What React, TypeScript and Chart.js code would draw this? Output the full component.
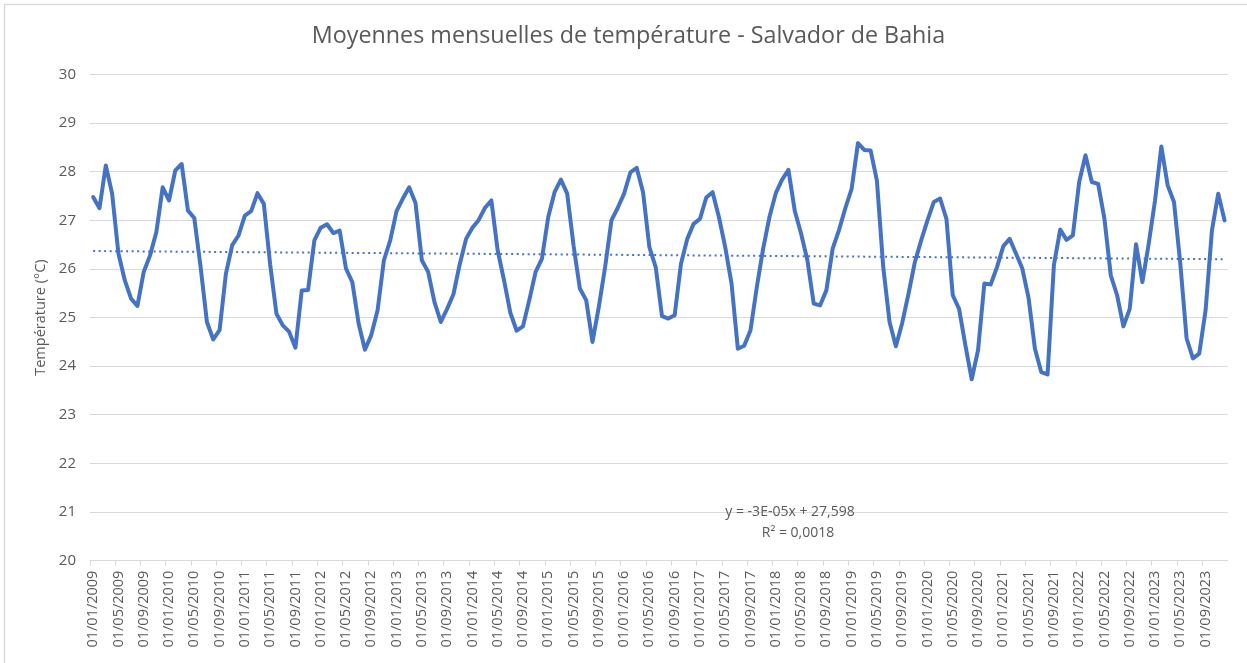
import React, { useEffect, useRef } from "react";
import { Chart, registerables } from "chart.js";

Chart.register(...registerables);

const TITLE = "Moyennes mensuelles de température - Salvador de Bahia";
const Y_TITLE = "Température (°C)";
const TREND_EQ = "y = -3E-05x + 27,598";
const TREND_R2 = "R² = 0,0018";

const START_YEAR = 2009;
const LABEL_EVERY = 4;

const T_2009_2010 = [27.48, 27.25, 28.13, 27.55, 26.32, 25.77, 25.39, 25.24, 25.94, 26.28, 26.76, 27.68,
  27.41, 28.03, 28.16, 27.2, 27.05, 26.04, 24.91, 24.55, 24.74, 25.9, 26.49, 26.69];
const T_2011_2012 = [27.1, 27.19, 27.56, 27.34, 26.1, 25.08, 24.84, 24.71, 24.38, 25.56, 25.57, 26.59,
  26.85, 26.92, 26.74, 26.79, 26.01, 25.73, 24.88, 24.34, 24.64, 25.15, 26.18, 26.59];
const T_2013_2014 = [27.19, 27.45, 27.68, 27.36, 26.18, 25.94, 25.32, 24.91, 25.18, 25.48, 26.1, 26.62,
  26.85, 27.01, 27.26, 27.41, 26.38, 25.77, 25.1, 24.73, 24.82, 25.36, 25.94, 26.21];
const T_2015_2016 = [27.07, 27.58, 27.84, 27.55, 26.49, 25.6, 25.36, 24.5, 25.22, 26.04, 27.0, 27.26,
  27.55, 27.99, 28.08, 27.58, 26.45, 26.04, 25.03, 24.98, 25.05, 26.11, 26.62, 26.93];
const T_2017_2018 = [27.03, 27.47, 27.58, 27.07, 26.45, 25.7, 24.36, 24.42, 24.74, 25.63, 26.42, 27.07,
  27.56, 27.84, 28.04, 27.2, 26.73, 26.18, 25.29, 25.25, 25.56, 26.42, 26.8, 27.25];
const T_2019_2020 = [27.65, 28.59, 28.45, 28.44, 27.82, 26.04, 24.91, 24.41, 24.89, 25.49, 26.14, 26.59,
  27.0, 27.38, 27.45, 27.03, 25.46, 25.18, 24.43, 23.73, 24.33, 25.7, 25.68, 26.04];
const T_2021_2022 = [26.47, 26.62, 26.32, 26.01, 25.4, 24.36, 23.88, 23.83, 26.08, 26.81, 26.6, 26.69,
  27.79, 28.34, 27.79, 27.75, 27.03, 25.87, 25.46, 24.82, 25.18, 26.51, 25.73, 26.52];
const T_2023 = [27.41, 28.52, 27.72, 27.38, 26.11, 24.57, 24.16, 24.26, 25.15, 26.79, 27.55, 27.0];

const TEMPS = [
  ...T_2009_2010, ...T_2011_2012, ...T_2013_2014, ...T_2015_2016,
  ...T_2017_2018, ...T_2019_2020, ...T_2021_2022, ...T_2023,
];

const pad2 = (n: number) => (n < 10 ? "0" + n : "" + n);
const MONTH_LABELS = TEMPS.map((_, i) => {
  const y = START_YEAR + Math.floor(i / 12);
  const m = (i % 12) + 1;
  return `01/${pad2(m)}/${y}`;
});

function linearTrend(values: number[]): number[] {
  const n = values.length;
  let sx = 0, sy = 0, sxx = 0, sxy = 0;
  values.forEach((v, i) => { sx += i; sy += v; sxx += i * i; sxy += i * v; });
  const slope = (n * sxy - sx * sy) / (n * sxx - sx * sx);
  const intercept = (sy - slope * sx) / n;
  return values.map((_, i) => intercept + slope * i);
}

const FONT = "'Open Sans', 'DejaVu Sans', sans-serif";
const TEXT = "#595959";
const GRID = "#D9D9D9";
const BLUE = "#4472C4";

export default function App() {
  const ref = useRef<HTMLCanvasElement | null>(null);

  useEffect(() => {
    const canvas = ref.current;
    if (!canvas) return;

    const framePlugin = {
      id: "frame",
      beforeDraw(chart: any) {
        const ctx = chart.ctx;
        ctx.save();
        ctx.fillStyle = "#ffffff";
        ctx.fillRect(0, 0, chart.width, chart.height);
        ctx.strokeStyle = GRID;
        ctx.lineWidth = 1.3;
        ctx.strokeRect(4.5, 4.5, chart.width + 50, chart.height + 50);
        ctx.restore();
      },
    };

    const textPlugin = {
      id: "texts",
      afterDraw(chart: any) {
        const ctx = chart.ctx;
        ctx.save();
        ctx.fillStyle = TEXT;
        ctx.textAlign = "center";
        ctx.textBaseline = "middle";
        ctx.font = `23.3px ${FONT}`;
        ctx.fillText(TITLE, 628.5, 36.5);
        ctx.font = `14px ${FONT}`;
        ctx.fillText(TREND_EQ, 790, 512);
        ctx.fillText(TREND_R2, 798, 533);
        ctx.restore();
      },
    };

    const chart = new Chart(canvas, {
      type: "line",
      data: {
        labels: MONTH_LABELS,
        datasets: [
          {
            label: "Température",
            data: TEMPS,
            borderColor: BLUE,
            backgroundColor: BLUE,
            borderWidth: 4,
            pointRadius: 0,
            tension: 0,
            fill: false,
            borderCapStyle: "round",
            borderJoinStyle: "round",
          },
          {
            label: "Tendance",
            data: linearTrend(TEMPS),
            borderColor: BLUE,
            borderWidth: 2,
            borderDash: [2, 3.5],
            pointRadius: 0,
            tension: 0,
            fill: false,
          },
        ],
      },
      options: {
        responsive: false,
        animation: false,
        devicePixelRatio: 1,
        layout: { padding: { left: 0, right: 18, top: 74.6, bottom: 0 } },
        plugins: {
          legend: { display: false },
          tooltip: { enabled: false },
          title: { display: false },
        },
        scales: {
          x: {
            type: "category",
            offset: true,
            grid: {
              offset: true,
              drawOnChartArea: false,
              drawTicks: true,
              tickLength: 5,
              color: (ctx: any) => (ctx.index % LABEL_EVERY === 0 ? GRID : "rgba(0,0,0,0)"),
            },
            border: { display: true, color: GRID, width: 1 },
            ticks: {
              autoSkip: false,
              maxRotation: 90,
              minRotation: 90,
              padding: 5,
              color: TEXT,
              font: { family: FONT, size: 14.5 },
              callback: (_v: any, i: number) => (i % LABEL_EVERY === 0 ? MONTH_LABELS[i] : ""),
            },
            afterFit: (scale: any) => { scale.height = 102.4; },
          },
          y: {
            min: 20,
            max: 30,
            ticks: {
              stepSize: 1,
              padding: 14,
              color: TEXT,
              font: { family: FONT, size: 15 },
            },
            grid: { color: GRID, drawTicks: false, lineWidth: 1 },
            border: { display: false },
            title: {
              display: true,
              text: Y_TITLE,
              color: TEXT,
              font: { family: FONT, size: 14.5 },
              padding: { top: 32, bottom: 0 },
            },
            afterFit: (scale: any) => { scale.width = 90; },
          },
        },
      },
      plugins: [framePlugin, textPlugin],
    } as any);

    return () => chart.destroy();
  }, []);

  return (
    <div style={{ position: "absolute", left: 0, top: 0, width: 1247, height: 663 }}>
      <canvas ref={ref} width={1247} height={663} style={{ display: "block" }} />
    </div>
  );
}
